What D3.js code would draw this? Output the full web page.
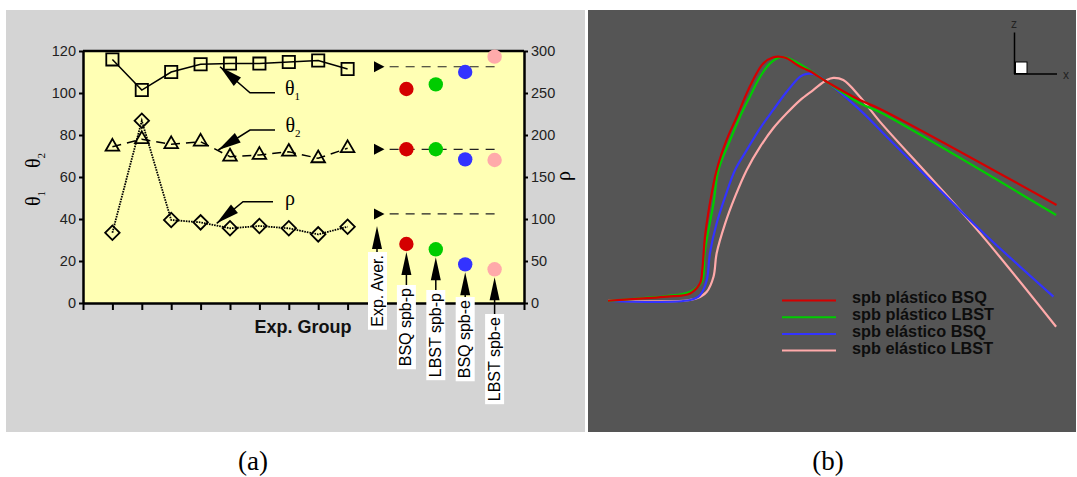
<!DOCTYPE html>
<html><head><meta charset="utf-8">
<script src="https://cdn.jsdelivr.net/npm/d3@7"></script>
<style>body{margin:0;background:#fff}svg{display:block}</style>
</head><body>
<svg id="c" width="1077" height="477"></svg>
<script>
// ---------- DATA: panel (a) ----------
const groups = [1,2,3,4,5,6,7,8,9];
const theta1 = [116, 101.4, 110, 113.7, 114, 114, 114.8, 115.5, 111.4];
const theta2 = [74.4, 78, 75.6, 76.8, 69.7, 70.5, 72, 68.9, 73.7];
const rho    = [83.7, 217, 98.8, 96, 88.9, 91.7, 88.9, 81.7, 90.8];
const avgPos = 10;
const avgTheta1 = 112.5, avgTheta2 = 73.2, avgRho = 106;
const models = ["BSQ spb-p","LBST spb-p","BSQ spb-e","LBST spb-e"];
const modelPos = [11,12,13,14];
const modelTheta1 = [101.9, 104.1, 110, 117.3];
const modelTheta2 = [73.2, 73.2, 68.4, 68.1];
const modelRho    = [70.2, 63.9, 46, 40.1];
const leftTicks  = [0,20,40,60,80,100,120];
const rightTicks = [0,50,100,150,200,250,300];
const xTicks = [0,1,2,3,4,5,6,7,8,9,15];

// ---------- DATA: panel (b) profiles [x, z] ----------
const plastBSQ = [[0,0.1],[7.9,1.1],[13.1,1.8],[18.3,3.1],[20.5,7.2],[21.0,12.7],[21.6,26.2],[22.7,39.9],[24.2,53.5],[26.4,65.7],[28.7,75.2],[30.9,84.8],[33.1,92.9],[34.6,97.0],[36.8,99.5],[38.3,99.7],[39.8,99.1],[42.8,95.6],[45.0,93.8],[48.7,89.5],[56.1,82.0],[60.6,78.4],[99.9,39.2]];
const plastLBST = [[0,0],[7.9,1.2],[13.1,2.0],[18.3,3.8],[20.9,7.9],[21.5,19.5],[22.1,26.2],[23.5,39.9],[24.6,53.5],[27.2,65.7],[29.4,75.2],[31.6,83.4],[33.9,91.6],[36.1,97.0],[38.3,99.5],[39.8,99.3],[42.8,96.7],[48.7,89.5],[56.1,80.7],[60.6,77.0],[99.8,35.1]];
const elastBSQ = [[0,0],[18.3,0.4],[20.5,2.4],[22.0,8.6],[22.7,19.5],[24.2,31.7],[26.1,42.6],[28.3,53.5],[30.9,61.6],[33.9,70.6],[36.8,78.0],[39.8,85.4],[42.8,91.6],[44.3,92.7],[46.5,92.2],[48.7,89.5],[56.1,78.0],[62.8,65.7],[71.7,49.4],[82.9,29.0],[99.2,1.8]];
const elastLBST = [[0,0.1],[16.8,0.1],[19.8,1.1],[22.0,3.8],[23.5,9.9],[24.2,19.5],[26.1,31.7],[28.3,42.6],[30.9,53.5],[33.9,63.0],[36.8,70.5],[39.8,76.6],[42.8,82.0],[45.7,86.1],[48.7,90.2],[50.2,91.1],[52.4,90.2],[56.1,83.4],[60.6,73.1],[71.7,50.7],[82.9,27.6],[99.8,-10.5]];
const seriesNames = ["spb plástico BSQ","spb plástico LBST","spb elástico BSQ","spb elástico LBST"];

// ---------- STYLE ----------
const modelColors = ["#d40000","#00cc00","#3333ff","#ffaaaa"];
const SANS = "'Liberation Sans', Arial, sans-serif";
const SERIF = "'Liberation Serif', 'Times New Roman', serif";
const labelTops = [285, 290, 297, 314];
const avgLabelTop = 252;

const svg = d3.select("#c");

// ================= PANEL (a) =================
svg.append("rect").attr("x",6).attr("y",10).attr("width",579).attr("height",422).attr("fill","#d4d4d4");

const x  = d3.scaleLinear().domain([0,15]).range([83,524]);
const yL = d3.scaleLinear().domain([0,120]).range([303,51]);
const yR = d3.scaleLinear().domain([0,300]).range([303,51]);

svg.append("rect").attr("x",83).attr("y",51).attr("width",441).attr("height",252).attr("fill","#ffffb4");

const gL = svg.append("g").attr("transform","translate(83,0)")
  .call(d3.axisLeft(yL).tickValues(leftTicks).tickSize(4).tickPadding(3).tickSizeOuter(0));
const gR = svg.append("g").attr("transform","translate(524,0)")
  .call(d3.axisRight(yR).tickValues(rightTicks).tickSize(4).tickPadding(3).tickSizeOuter(0));
const gB = svg.append("g").attr("transform","translate(0,303)")
  .call(d3.axisBottom(x).tickValues(xTicks).tickSize(7).tickFormat("").tickSizeOuter(0));
[gL,gR,gB].forEach(g=>{
  g.selectAll("text").attr("font-family",SANS).attr("font-size",14.5).attr("fill","#222");
  g.selectAll("line").attr("stroke","#000").attr("stroke-width",2);
  g.select(".domain").attr("stroke","#000").attr("stroke-width",2.5);
});
svg.append("line").attr("x1",83).attr("x2",524).attr("y1",51).attr("y2",51).attr("stroke","#000").attr("stroke-width",2.5);

const lineL = d3.line().x((d,i)=>x(groups[i])).y(d=>yL(d));
const lineR = d3.line().x((d,i)=>x(groups[i])).y(d=>yR(d));
svg.append("path").attr("d",lineL(theta1)).attr("fill","none").attr("stroke","#000").attr("stroke-width",1.5);
svg.append("path").attr("d",lineL(theta2)).attr("fill","none").attr("stroke","#000").attr("stroke-width",1.5).attr("stroke-dasharray","9,6");
svg.append("path").attr("d",lineR(rho)).attr("fill","none").attr("stroke","#000").attr("stroke-width",1.8).attr("stroke-dasharray","1.6,1");

const sq = d3.symbol(d3.symbolSquare, 150)();
const tri = d3.symbol(d3.symbolTriangle, 80)();
const dia = d3.symbol(d3.symbolSquare, 105)();
svg.append("g").selectAll("path").data(theta1).join("path")
  .attr("d",sq).attr("transform",(d,i)=>`translate(${x(groups[i])},${yL(d)})`)
  .attr("fill","none").attr("stroke","#000").attr("stroke-width",1.8);
svg.append("g").selectAll("path").data(theta2).join("path")
  .attr("d",tri).attr("transform",(d,i)=>`translate(${x(groups[i])},${yL(d)})`)
  .attr("fill","none").attr("stroke","#000").attr("stroke-width",1.8);
svg.append("g").selectAll("path").data(rho).join("path")
  .attr("d",dia).attr("transform",(d,i)=>`translate(${x(groups[i])},${yR(d)}) rotate(45)`)
  .attr("fill","none").attr("stroke","#000").attr("stroke-width",1.8);

const avgYs = [yL(avgTheta1), yL(avgTheta2), yR(avgRho)];
avgYs.forEach(yy=>{
  const cx = x(avgPos);
  svg.append("path").attr("d",`M${cx-3},${yy-5.5}L${cx+7.5},${yy}L${cx-3},${yy+5.5}Z`).attr("fill","#000");
  svg.append("line").attr("x1",x(avgPos+0.43)).attr("x2",x(14)).attr("y1",yy).attr("y2",yy)
    .attr("stroke","#222").attr("stroke-width",1.2).attr("stroke-dasharray","9,7");
});

[modelTheta1, modelTheta2, modelRho].forEach((arr,k)=>{
  const ys = k<2 ? yL : yR;
  svg.append("g").selectAll("circle").data(arr).join("circle")
    .attr("cx",(d,i)=>x(modelPos[i])).attr("cy",d=>ys(d)).attr("r",7.2)
    .attr("fill",(d,i)=>modelColors[i]);
});

function vArrow(cx, tip, base){
  svg.append("line").attr("x1",cx).attr("x2",cx).attr("y1",tip+18).attr("y2",base).attr("stroke","#000").attr("stroke-width",1.5);
  svg.append("path").attr("d",`M${cx},${tip}L${cx+5},${tip+23}L${cx-5},${tip+23}Z`).attr("fill","#000");
}
function boxLabel(cx, top, txt){
  const g = svg.append("g");
  const r = g.append("rect").attr("fill","#fff");
  const t = g.append("text").text(txt).attr("font-family",SANS).attr("font-size",16).attr("fill","#000")
    .attr("text-anchor","middle");
  const len = t.node().getComputedTextLength();
  const h = len + 6;
  r.attr("x",cx-9.5).attr("y",top).attr("width",19).attr("height",h);
  t.attr("transform",`translate(${cx+5},${top+h/2}) rotate(-90)`);
}
vArrow(x(avgPos), yR(avgRho)+12, avgLabelTop);
boxLabel(x(avgPos)+0.5, avgLabelTop, "Exp. Aver.");
models.forEach((m,i)=>{
  const cx = x(modelPos[i]);
  vArrow(cx, yR(modelRho[i])+8, labelTops[i]);
  boxLabel(cx, labelTops[i], m);
});

function callout(tx, ty, kx, tipx, tipy){
  svg.append("path").attr("d",`M${tx},${ty}L${kx},${ty}L${tipx},${tipy}`).attr("fill","none").attr("stroke","#000").attr("stroke-width",1.5);
  const ang = Math.atan2(tipy-ty, tipx-kx);
  const L=23, W=5.5;
  const bx = tipx - L*Math.cos(ang), by = tipy - L*Math.sin(ang);
  const px = -Math.sin(ang)*W, py = Math.cos(ang)*W;
  svg.append("path").attr("d",`M${tipx},${tipy}L${bx+px},${by+py}L${bx-px},${by-py}Z`).attr("fill","#000");
}
callout(275, 92.7, 250, 220, 66.7);
callout(275, 130, 250, 218.3, 150);
callout(273, 201.7, 243, 216.7, 223.3);
function greek(xp, yp, ch, sub){
  const t = svg.append("text").attr("x",xp).attr("y",yp).attr("font-family",SERIF).attr("font-size",20).attr("fill","#000").text(ch);
  if(sub) t.append("tspan").attr("dy",5).attr("font-size",11).text(sub);
}
greek(285, 95, "θ", "1");
greek(285.5, 131.5, "θ", "2");
greek(285, 205, "ρ", null);

svg.append("text").attr("transform","translate(40,206) rotate(-90)").attr("font-family",SERIF).attr("font-size",20)
  .text("θ").append("tspan").attr("dy",5).attr("font-size",11).text("1");
svg.append("text").attr("transform","translate(40,168) rotate(-90)").attr("font-family",SERIF).attr("font-size",20)
  .text("θ").append("tspan").attr("dy",5).attr("font-size",11).text("2");
svg.append("text").attr("transform","translate(570,176) rotate(-90)").attr("font-family",SERIF).attr("font-size",20)
  .attr("text-anchor","middle").text("ρ");
svg.append("text").attr("x",303).attr("y",333).attr("text-anchor","middle").attr("font-family",SANS)
  .attr("font-weight","bold").attr("font-size",18).attr("fill","#111").text("Exp. Group");

// ================= PANEL (b) =================
svg.append("rect").attr("x",588).attr("y",10).attr("width",488).attr("height",422).attr("fill","#555555");
const sx = d3.scaleLinear().domain([0,100]).range([608,1057]);
const sz = d3.scaleLinear().domain([0,100]).range([301,56]);
const prof = d3.line().x(d=>sx(d[0])).y(d=>sz(d[1])).curve(d3.curveCatmullRom.alpha(0.5));
const profiles = [plastBSQ, plastLBST, elastBSQ, elastLBST];
[3,2,1,0].forEach(i=>{
  svg.append("path").attr("d",prof(profiles[i])).attr("fill","none").attr("stroke",modelColors[i]).attr("stroke-width",2.2);
});
seriesNames.forEach((n,i)=>{
  const ly = 300.5 + 16.7*i;
  svg.append("line").attr("x1",782).attr("x2",836).attr("y1",ly).attr("y2",ly).attr("stroke",modelColors[i]).attr("stroke-width",2);
  svg.append("text").attr("x",852).attr("y",303 + 17*i).attr("font-family",SANS).attr("font-weight","bold")
    .attr("font-size",16.3).attr("fill","#0d0d0d").text(n);
});
svg.append("line").attr("x1",1014.5).attr("x2",1014.5).attr("y1",32.5).attr("y2",74).attr("stroke","#000").attr("stroke-width",1.5);
svg.append("line").attr("x1",1014).attr("x2",1057).attr("y1",74).attr("y2",74).attr("stroke","#000").attr("stroke-width",1.5);
svg.append("rect").attr("x",1015.5).attr("y",62).attr("width",11.5).attr("height",11.5).attr("fill","#fff").attr("stroke","#000").attr("stroke-width",1);
svg.append("text").attr("x",1014).attr("y",28).attr("text-anchor","middle").attr("font-family",SANS).attr("font-size",12).attr("fill","#222").text("z");
svg.append("text").attr("x",1066).attr("y",78.5).attr("text-anchor","middle").attr("font-family",SANS).attr("font-size",12).attr("fill","#222").text("x");

svg.append("text").attr("x",253).attr("y",470).attr("text-anchor","middle").attr("font-family",SERIF).attr("font-size",27).text("(a)");
svg.append("text").attr("x",828).attr("y",470).attr("text-anchor","middle").attr("font-family",SERIF).attr("font-size",27).text("(b)");
</script>
</body></html>
